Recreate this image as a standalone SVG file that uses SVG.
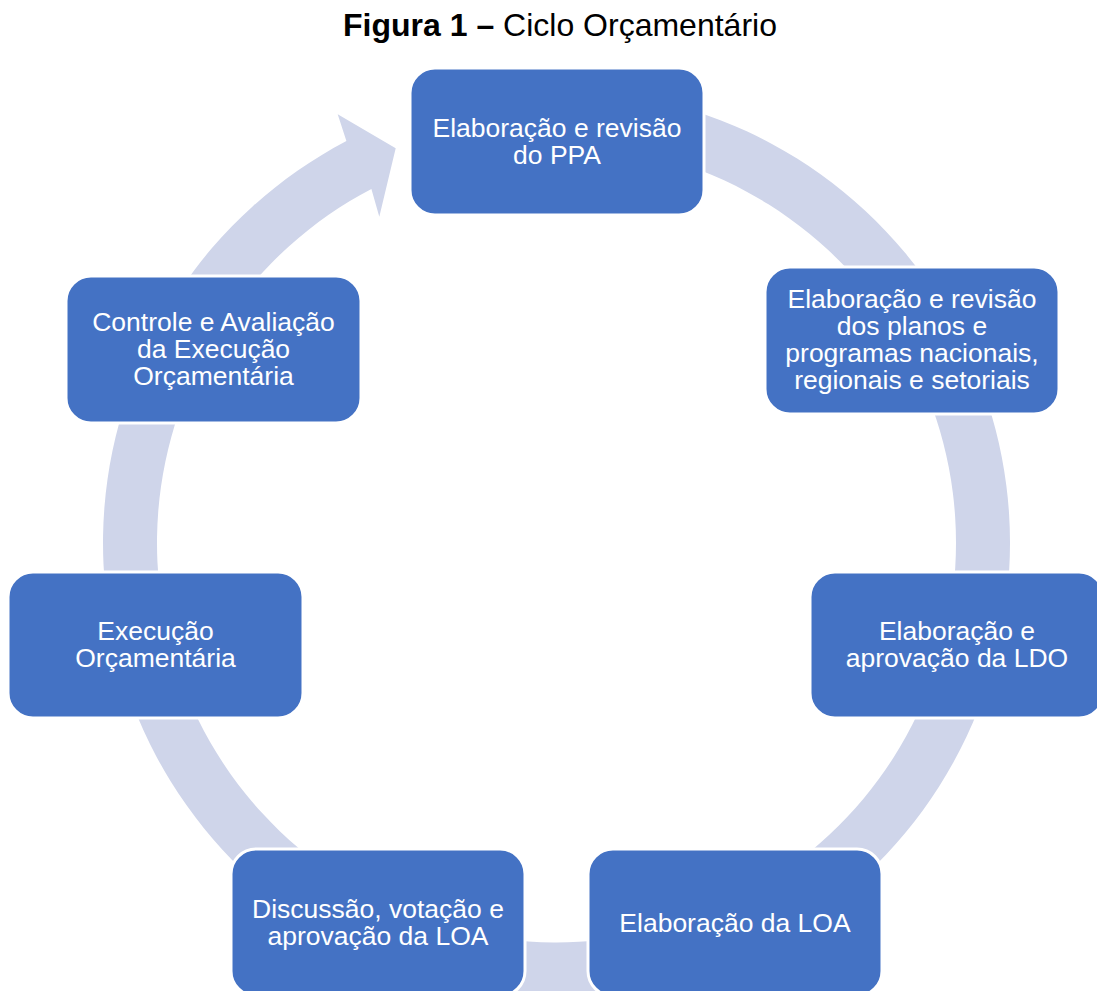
<svg xmlns="http://www.w3.org/2000/svg" width="1097" height="991" viewBox="0 0 1097 991">
<style>
.box{fill:#4472C4;stroke:#FFFFFF;stroke-width:3}
.lbl{font-family:"Liberation Sans",Arial,sans-serif;font-size:26.5px;fill:#FFFFFF;text-anchor:middle}
.title{font-family:"Liberation Sans",Arial,sans-serif;font-size:32px;fill:#000000;text-anchor:middle}
</style>
<rect width="1097" height="991" fill="#FFFFFF"/>
<text class="title" x="560" y="36"><tspan font-weight="bold">Figura 1 –</tspan> Ciclo Orçamentário</text>
<g id="connectors">
<path fill="#CFD5EA" d="M439.13,104.95 A453.5,453.5 0 1 1 346.39,141.11 L337.7,114.3 L395.7,148.3 L379.3,216.7 L371.41,188.96 A399.5,399.5 0 1 0 453.10,157.11 Z"/>
</g>
<g id="node-ppa">
<rect class="box" x="410" y="68" width="294" height="147" rx="25"/>
<text class="lbl" x="557" y="137">Elaboração e revisão<tspan x="557" dy="27">do PPA</tspan></text>
</g>
<g id="node-planos">
<rect class="box" x="765" y="267" width="294" height="147" rx="25"/>
<text class="lbl" x="912" y="308">Elaboração e revisão<tspan x="912" dy="27">dos planos e</tspan><tspan x="912" dy="27">programas nacionais,</tspan><tspan x="912" dy="27">regionais e setoriais</tspan></text>
</g>
<g id="node-ldo">
<rect class="box" x="810" y="572" width="294" height="146" rx="25"/>
<text class="lbl" x="957" y="640">Elaboração e<tspan x="957" dy="27">aprovação da LDO</tspan></text>
</g>
<g id="node-loa">
<rect class="box" x="588" y="849" width="294" height="147" rx="25"/>
<text class="lbl" x="735" y="932">Elaboração da LOA</text>
</g>
<g id="node-discussao">
<rect class="box" x="231" y="849" width="294" height="147" rx="25"/>
<text class="lbl" x="378" y="918">Discussão, votação e<tspan x="378" dy="27">aprovação da LOA</tspan></text>
</g>
<g id="node-execucao">
<rect class="box" x="8" y="572" width="295" height="146" rx="25"/>
<text class="lbl" x="155.5" y="640">Execução<tspan x="155.5" dy="27">Orçamentária</tspan></text>
</g>
<g id="node-controle">
<rect class="box" x="66" y="276" width="295" height="147" rx="25"/>
<text class="lbl" x="213.5" y="331">Controle e Avaliação<tspan x="213.5" dy="27">da Execução</tspan><tspan x="213.5" dy="27">Orçamentária</tspan></text>
</g>
</svg>
